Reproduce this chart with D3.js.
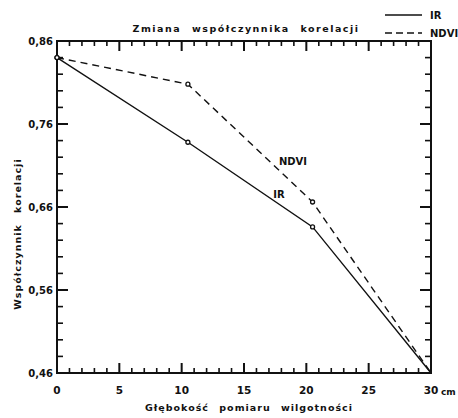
<!DOCTYPE html>
<html><head><meta charset="utf-8">
<script src="https://cdn.jsdelivr.net/npm/d3@7"></script>
<style>
body{margin:0;background:#fff;}
text{font-family:"DejaVu Sans",sans-serif;font-weight:bold;fill:#111;}
</style></head>
<body><svg id="c" width="458" height="418"></svg>
<script>
const depths = [0, 10.5, 20.5, 30];
const irValues = [0.84, 0.738, 0.636, 0.46];
const ndviValues = [0.84, 0.808, 0.666, 0.46];
const xTicks = [0, 5, 10, 15, 20, 25, 30];
const yTicks = [0.46, 0.56, 0.66, 0.76, 0.86];
const yTickLabels = ["0,46", "0,56", "0,66", "0,76", "0,86"];

const svg = d3.select("#c");
const x = d3.scaleLinear().domain([0, 30]).range([57, 431]);
const y = d3.scaleLinear().domain([0.46, 0.86]).range([373, 41]);
const ink = "#111";

const xMinor = d3.range(1, 30).filter(v => v % 5 !== 0);
const yMinor = [0.48, 0.50, 0.52, 0.54, 0.58, 0.60, 0.62, 0.64, 0.68, 0.70, 0.72, 0.74, 0.78, 0.80, 0.82, 0.84];

const x0 = x(0), x1 = x(30), yb = y(0.46), yt = y(0.86);

// frame
svg.append("rect").attr("x", x0).attr("y", yt)
  .attr("width", x1 - x0).attr("height", yb - yt)
  .attr("fill", "none").attr("stroke", ink).attr("stroke-width", 2);

// inward ticks drawn as thin filled rects
function addXTicks(vals, len, w) {
  svg.selectAll(null).data(vals).enter().append("rect")
    .attr("x", d => x(d) - w / 2).attr("y", yb - len).attr("width", w).attr("height", len).attr("fill", ink);
  svg.selectAll(null).data(vals).enter().append("rect")
    .attr("x", d => x(d) - w / 2).attr("y", yt).attr("width", w).attr("height", len).attr("fill", ink);
}
function addYTicks(vals, len, w) {
  svg.selectAll(null).data(vals).enter().append("rect")
    .attr("x", x0).attr("y", d => y(d) - w / 2).attr("width", len).attr("height", w).attr("fill", ink);
  svg.selectAll(null).data(vals).enter().append("rect")
    .attr("x", x1 - len).attr("y", d => y(d) - w / 2).attr("width", len).attr("height", w).attr("fill", ink);
}
addXTicks(xTicks.slice(1, -1), 10, 2);
addXTicks(xMinor, 5, 1.6);
addYTicks(yTicks.slice(1, -1), 11, 2);
addYTicks(yMinor, 6, 1.6);

// tick labels
svg.selectAll(".xl").data(xTicks).enter().append("text")
  .attr("x", d => x(d)).attr("y", 394).attr("text-anchor", "middle")
  .attr("font-size", 10.5).text(d => d);
svg.append("text").attr("x", x1 + 10).attr("y", 395).attr("font-size", 9).text("cm");
svg.selectAll(".yl").data(yTicks).enter().append("text")
  .attr("x", x0 - 4).attr("y", d => y(d) + 4).attr("text-anchor", "end")
  .attr("font-size", 10).text((d, i) => yTickLabels[i]);

// lines
const line = d3.line().x((d, i) => x(depths[i])).y(d => y(d));
svg.append("path").attr("d", line(ndviValues)).attr("fill", "none")
  .attr("stroke", ink).attr("stroke-width", 1.4).attr("stroke-dasharray", "7,5");
svg.append("path").attr("d", line(irValues)).attr("fill", "none")
  .attr("stroke", ink).attr("stroke-width", 1.4);
[irValues, ndviValues].forEach(vals => {
  svg.selectAll(null).data(vals.slice(0, 3)).enter().append("circle")
    .attr("cx", (d, i) => x(depths[i])).attr("cy", d => y(d)).attr("r", 2)
    .attr("fill", "#fff").attr("stroke", ink).attr("stroke-width", 1.3);
});

// inline labels
svg.append("text").attr("x", 293).attr("y", 165).attr("font-size", 10).attr("text-anchor", "middle").text("NDVI");
svg.append("text").attr("x", 279).attr("y", 198).attr("font-size", 10).attr("text-anchor", "middle").text("IR");

// title
svg.append("text").attr("x", 246).attr("y", 32).attr("text-anchor", "middle")
  .attr("font-size", 9.5).attr("letter-spacing", 1.5).attr("word-spacing", 6).text("Zmiana współczynnika korelacji");

// legend
svg.append("line").attr("x1", 385).attr("x2", 422).attr("y1", 15).attr("y2", 15).attr("stroke", ink).attr("stroke-width", 1.5);
svg.append("line").attr("x1", 385).attr("x2", 422).attr("y1", 33).attr("y2", 33).attr("stroke", ink).attr("stroke-width", 1.5).attr("stroke-dasharray", "7,4");
svg.append("text").attr("x", 430).attr("y", 19).attr("font-size", 10).text("IR");
svg.append("text").attr("x", 430).attr("y", 37).attr("font-size", 10).text("NDVI");

// axis titles
svg.append("text").attr("x", 249).attr("y", 411).attr("text-anchor", "middle")
  .attr("font-size", 9.5).attr("letter-spacing", 1).attr("word-spacing", 6).text("Głębokość pomiaru wilgotności");
svg.append("text").attr("transform", "translate(21,234) rotate(-90)").attr("text-anchor", "middle")
  .attr("font-size", 9.5).attr("letter-spacing", 1).attr("word-spacing", 7).text("Współczynnik korelacji");
</script></body></html>
